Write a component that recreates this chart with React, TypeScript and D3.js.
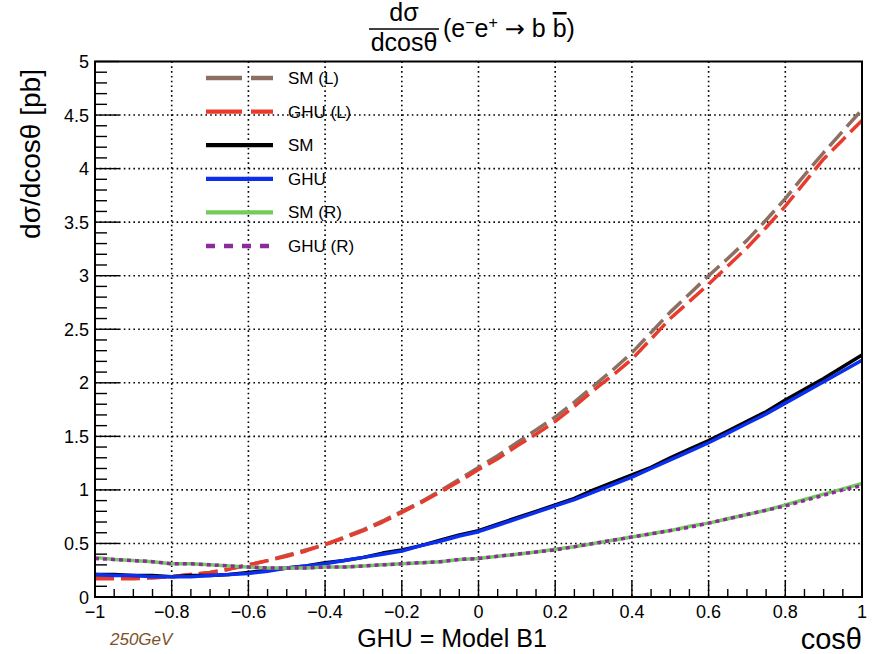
import React from "react";
import * as d3 from "d3";

const cosTheta: number[] = [
  -1, -0.95, -0.9, -0.85, -0.8, -0.75, -0.7, -0.65, -0.6, -0.55, -0.5, -0.45, -0.4, -0.35, -0.3, -0.25, -0.2, -0.15, -0.1, -0.05,
  0, 0.05, 0.1, 0.15, 0.2, 0.25, 0.3, 0.35, 0.4, 0.45, 0.5, 0.55, 0.6, 0.65, 0.7, 0.75, 0.8, 0.85, 0.9, 0.95, 1,
];

const smL: number[] = [
  0.18, 0.18, 0.18, 0.18, 0.19, 0.21, 0.23, 0.26, 0.3, 0.34, 0.39, 0.44, 0.49, 0.56, 0.63, 0.71, 0.8, 0.89, 0.99, 1.1,
  1.21, 1.32, 1.44, 1.56, 1.68, 1.82, 1.97, 2.12, 2.28, 2.47, 2.66, 2.83, 3.0, 3.16, 3.33, 3.52, 3.72, 3.94, 4.15, 4.35, 4.55,
];
const ghuL: number[] = [
  0.17, 0.17, 0.17, 0.18, 0.19, 0.21, 0.23, 0.26, 0.3, 0.34, 0.38, 0.43, 0.49, 0.55, 0.62, 0.7, 0.79, 0.88, 0.98, 1.08,
  1.19, 1.29, 1.41, 1.52, 1.64, 1.78, 1.93, 2.07, 2.22, 2.41, 2.6, 2.76, 2.92, 3.09, 3.26, 3.45, 3.65, 3.87, 4.09, 4.27, 4.45,
];
const sm: number[] = [
  0.21, 0.21, 0.2, 0.2, 0.19, 0.2, 0.2, 0.21, 0.23, 0.25, 0.27, 0.29, 0.32, 0.34, 0.37, 0.41, 0.44, 0.48, 0.53, 0.58,
  0.62, 0.68, 0.74, 0.8, 0.86, 0.92, 1.0, 1.07, 1.14, 1.21, 1.3, 1.38, 1.46, 1.55, 1.64, 1.73, 1.84, 1.94, 2.04, 2.15, 2.26,
];
const ghu: number[] = [
  0.21, 0.2, 0.2, 0.19, 0.19, 0.19, 0.2, 0.21, 0.22, 0.24, 0.27, 0.29, 0.31, 0.34, 0.37, 0.4, 0.43, 0.48, 0.52, 0.57,
  0.61, 0.67, 0.73, 0.79, 0.85, 0.91, 0.98, 1.05, 1.12, 1.2, 1.28, 1.36, 1.44, 1.53, 1.62, 1.71, 1.81, 1.91, 2.01, 2.11, 2.21,
];
const smR: number[] = [
  0.37, 0.35, 0.34, 0.33, 0.31, 0.31, 0.3, 0.29, 0.28, 0.27, 0.27, 0.27, 0.28, 0.28, 0.29, 0.3, 0.31, 0.32, 0.33, 0.35,
  0.36, 0.38, 0.4, 0.42, 0.445, 0.47, 0.5, 0.53, 0.56, 0.59, 0.62, 0.66, 0.69, 0.73, 0.77, 0.81, 0.86, 0.91, 0.96, 1.01, 1.06,
];
const ghuR: number[] = [
  0.36, 0.35, 0.34, 0.33, 0.31, 0.31, 0.3, 0.29, 0.28, 0.27, 0.27, 0.27, 0.28, 0.28, 0.29, 0.3, 0.31, 0.32, 0.33, 0.35,
  0.36, 0.38, 0.4, 0.42, 0.44, 0.47, 0.5, 0.53, 0.56, 0.59, 0.62, 0.65, 0.69, 0.73, 0.77, 0.81, 0.85, 0.9, 0.95, 1.0, 1.04,
];

const seriesNames: string[] = ["SM (L)", "GHU (L)", "SM", "GHU", "SM (R)", "GHU (R)"];
const seriesValues: number[][] = [smL, ghuL, sm, ghu, smR, ghuR];
const seriesColors: string[] = ["#8c6f62", "#ea3a2c", "#000000", "#0a2ff0", "#72cc5c", "#8e2a9e"];
const plotDash: (string | undefined)[] = ["19 7", "19 7", undefined, undefined, undefined, "4 4"];
const legendDash: (string | undefined)[] = ["36 9", "36 9", undefined, undefined, undefined, "9 9"];

const xMajorTicks: number[] = [-1, -0.8, -0.6, -0.4, -0.2, 0, 0.2, 0.4, 0.6, 0.8, 1];
const xTickLabels: string[] = ["\u22121", "\u22120.8", "\u22120.6", "\u22120.4", "\u22120.2", "0", "0.2", "0.4", "0.6", "0.8", "1"];
const yMajorTicks: number[] = [0, 0.5, 1, 1.5, 2, 2.5, 3, 3.5, 4, 4.5, 5];
const yTickLabels: string[] = ["0", "0.5", "1", "1.5", "2", "2.5", "3", "3.5", "4", "4.5", "5"];

const W = 879;
const H = 654;
const FONT = "'Liberation Sans', Arial, Helvetica, sans-serif";

export default function App() {
  const left = 95, right = 862, top = 61.5, bottom = 597;
  const x = d3.scaleLinear().domain([-1, 1]).range([left, right]);
  const y = d3.scaleLinear().domain([0, 5]).range([bottom, top]);

  const xMinor = d3.range(-1, 1.0001, 0.05).filter((v) => Math.abs(Math.round(v * 5) - v * 5) > 1e-6);
  const yMinor = d3.range(0, 5.0001, 0.1).filter((v) => Math.abs(Math.round(v * 2) - v * 2) > 1e-6);

  const line = d3
    .line<number>()
    .x((_, i) => x(cosTheta[i]))
    .y((d) => y(d));

  const legX1 = 206, legX2 = 273, legTextX = 288, legY0 = 78, legStep = 33.6;

  return (
    <svg width={W} height={H} style={{ position: "absolute", left: 0, top: 0, background: "#fff" }} fontFamily={FONT}>
      <rect x={0} y={0} width={W} height={H} fill="#fff" />
      {/* grid */}
      <g stroke="#000" strokeWidth={1.6} strokeDasharray="1.6 3.2">
        {xMajorTicks.slice(1, -1).map((t) => (
          <line key={"gx" + t} x1={x(t)} x2={x(t)} y1={top} y2={bottom} />
        ))}
        {yMajorTicks.slice(1, -1).map((t) => (
          <line key={"gy" + t} x1={left} x2={right} y1={y(t)} y2={y(t)} />
        ))}
      </g>
      {/* ticks */}
      <g stroke="#000" strokeWidth={1.4}>
        {xMajorTicks.map((t) => (
          <line key={"xt" + t} x1={x(t)} x2={x(t)} y1={bottom} y2={bottom - 16} />
        ))}
        {xMinor.map((t) => (
          <line key={"xm" + t} x1={x(t)} x2={x(t)} y1={bottom} y2={bottom - 8} />
        ))}
        {yMajorTicks.map((t) => (
          <line key={"yt" + t} x1={left} x2={left + 24} y1={y(t)} y2={y(t)} />
        ))}
        {yMinor.map((t) => (
          <line key={"ym" + t} x1={left} x2={left + 12} y1={y(t)} y2={y(t)} />
        ))}
      </g>
      {/* curves */}
      <g fill="none" strokeLinejoin="round">
        {seriesValues.map((vals, i) => (
          <path
            key={seriesNames[i]}
            d={line(vals) || ""}
            stroke={seriesColors[i]}
            strokeWidth={3.5}
            strokeDasharray={plotDash[i]}
          />
        ))}
      </g>
      {/* frame */}
      <rect x={left} y={top} width={right - left} height={bottom - top} fill="none" stroke="#000" strokeWidth={2} />
      {/* tick labels */}
      <g fontSize={18} fill="#000">
        {xMajorTicks.map((t, i) => (
          <text key={"xl" + t} x={x(t)} y={618} textAnchor="middle">
            {xTickLabels[i]}
          </text>
        ))}
        {yMajorTicks.map((t, i) => (
          <text key={"yl" + t} x={89} y={y(t) + 6.5} textAnchor="end">
            {yTickLabels[i]}
          </text>
        ))}
      </g>
      {/* legend */}
      <g>
        {seriesNames.map((name, i) => {
          const ly = legY0 + i * legStep;
          return (
            <g key={"leg" + name}>
              <line x1={legX1} x2={legX2} y1={ly} y2={ly} stroke={seriesColors[i]} strokeWidth={4.3} strokeDasharray={legendDash[i]} />
              <text x={legTextX} y={ly + 6} fontSize={17} fill="#000">
                {name}
              </text>
            </g>
          );
        })}
      </g>
      {/* title */}
      <g fill="#000" fontSize={25}>
        <text x={404} y={21} textAnchor="middle">dσ</text>
        <line x1={369} x2={439} y1={29} y2={29} stroke="#000" strokeWidth={1.6} />
        <text x={404} y={51} textAnchor="middle">dcosθ</text>
        <text x={443} y={37}>
          (e
          <tspan fontSize={16} dy={-9}>−</tspan>
          <tspan dy={9}>e</tspan>
          <tspan fontSize={16} dy={-9}>+</tspan>
          <tspan dy={9}> </tspan>
          <tspan fontFamily="'DejaVu Sans', sans-serif" fontSize={24}>→</tspan>
          <tspan> b </tspan>
          <tspan textDecoration="overline">b</tspan>
          <tspan>)</tspan>
        </text>
      </g>
      {/* axis titles */}
      <text x={0} y={0} fontSize={28} textAnchor="middle" transform="translate(40,154) rotate(-90)">
        dσ/dcosθ [pb]
      </text>
      <text x={862} y={649} fontSize={29} textAnchor="end">cosθ</text>
      <text x={452} y={647} fontSize={25} textAnchor="middle">GHU = Model B1</text>
      <text x={110} y={645} fontSize={17} fontStyle="italic" fill="#7a5128">250GeV</text>
    </svg>
  );
}
